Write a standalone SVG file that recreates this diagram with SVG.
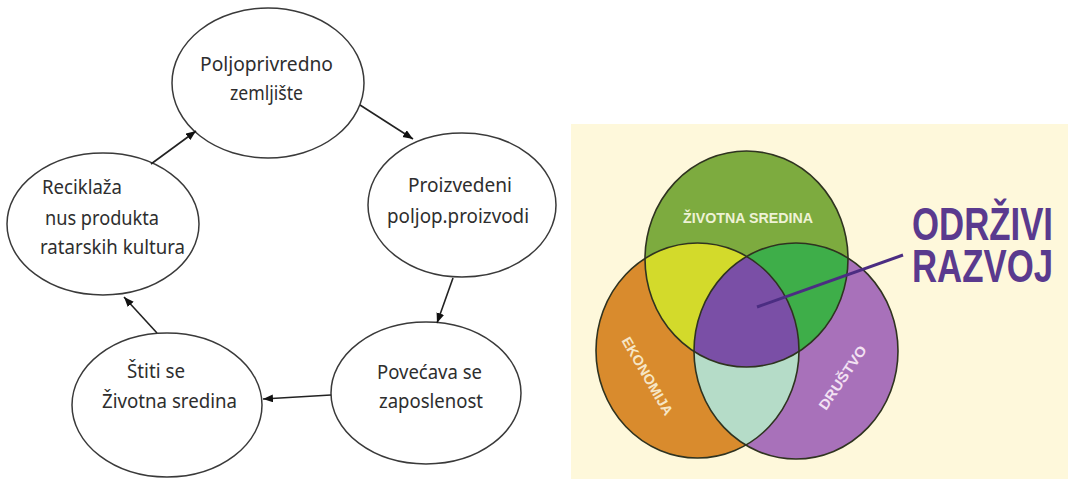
<svg xmlns="http://www.w3.org/2000/svg" width="1068" height="479" viewBox="0 0 1068 479">
<style>
.node ellipse{fill:#fff;stroke:#3a3a3a;stroke-width:1.5}
.lbl{font-family:"Noto Sans","Open Sans",sans-serif;font-size:19px;fill:#2e2e2e}
.conn line{stroke:#222;stroke-width:1.6;marker-end:url(#ah)}
.vout{fill:none;stroke:#2f3320;stroke-width:1.6}
.vl{font-family:"Liberation Sans",Arial,sans-serif;font-weight:bold;font-size:14px}
.big{font-family:"Liberation Sans",Arial,sans-serif;font-weight:bold;font-size:46px;fill:#5a3a8e}
</style>
<defs>
<marker id="ah" markerUnits="userSpaceOnUse" markerWidth="11" markerHeight="9" refX="10" refY="4" orient="auto">
<path d="M0,0 L10,4 L0,8 z" fill="#111"/>
</marker>
<clipPath id="cG"><ellipse cx="746.5" cy="259" rx="101.5" ry="108"/></clipPath>
<clipPath id="cO"><ellipse cx="697.5" cy="350.5" rx="101.5" ry="107.5"/></clipPath>
</defs>
<rect width="1068" height="479" fill="#fff"/>

<g id="n-poljoprivredno" class="node">
<ellipse cx="268" cy="83" rx="96" ry="75"/>
<text class="lbl" x="200" y="71" textLength="133" lengthAdjust="spacingAndGlyphs">Poljoprivredno</text>
<text class="lbl" x="230" y="100" textLength="73" lengthAdjust="spacingAndGlyphs">zemljište</text>
</g>
<g id="n-proizvedeni" class="node">
<ellipse cx="462" cy="205" rx="94" ry="72"/>
<text class="lbl" x="408" y="192" textLength="104" lengthAdjust="spacingAndGlyphs">Proizvedeni</text>
<text class="lbl" x="387" y="223" textLength="142" lengthAdjust="spacingAndGlyphs">poljop.proizvodi</text>
</g>
<g id="n-povecava" class="node">
<ellipse cx="426" cy="393" rx="95" ry="71"/>
<text class="lbl" x="377" y="379" textLength="105" lengthAdjust="spacingAndGlyphs">Povećava se</text>
<text class="lbl" x="379" y="408" textLength="104" lengthAdjust="spacingAndGlyphs">zaposlenost</text>
</g>
<g id="n-stiti" class="node">
<ellipse cx="167" cy="405" rx="95" ry="72"/>
<text class="lbl" x="127" y="378" textLength="58" lengthAdjust="spacingAndGlyphs">Štiti se</text>
<text class="lbl" x="102" y="408" textLength="135" lengthAdjust="spacingAndGlyphs">Životna sredina</text>
</g>
<g id="n-reciklaza" class="node">
<ellipse cx="103" cy="224" rx="96" ry="71"/>
<text class="lbl" x="42" y="194" textLength="80" lengthAdjust="spacingAndGlyphs">Reciklaža</text>
<text class="lbl" x="45" y="225" textLength="114" lengthAdjust="spacingAndGlyphs">nus produkta</text>
<text class="lbl" x="40" y="254" textLength="145" lengthAdjust="spacingAndGlyphs">ratarskih kultura</text>
</g>

<g id="connectors" class="conn">
<line x1="360" y1="105" x2="413" y2="139"/>
<line x1="453" y1="278" x2="437" y2="323"/>
<line x1="331" y1="395" x2="263" y2="399"/>
<line x1="157" y1="333" x2="124" y2="297"/>
<line x1="151" y1="164" x2="196" y2="131"/>
</g>

<g id="venn">
<rect x="571" y="124" width="497" height="355" fill="#fef8db"/>
<ellipse cx="746.5" cy="259" rx="101.5" ry="108" fill="#7dab3f"/>
<ellipse cx="697.5" cy="350.5" rx="101.5" ry="107.5" fill="#d98b2d"/>
<ellipse cx="796" cy="351" rx="102" ry="108" fill="#a871ba"/>
<ellipse cx="697.5" cy="350.5" rx="101.5" ry="107.5" fill="#d3da2b" clip-path="url(#cG)"/>
<ellipse cx="796" cy="351" rx="102" ry="108" fill="#3eae49" clip-path="url(#cG)"/>
<ellipse cx="796" cy="351" rx="102" ry="108" fill="#b5dcc8" clip-path="url(#cO)"/>
<g clip-path="url(#cG)"><ellipse cx="796" cy="351" rx="102" ry="108" fill="#7a4fa6" clip-path="url(#cO)"/></g>
<ellipse class="vout" cx="746.5" cy="259" rx="101.5" ry="108"/>
<ellipse class="vout" cx="697.5" cy="350.5" rx="101.5" ry="107.5"/>
<ellipse class="vout" cx="796" cy="351" rx="102" ry="108"/>
<text class="vl" x="683" y="223" textLength="130" lengthAdjust="spacingAndGlyphs" fill="#eef2d6">ŽIVOTNA SREDINA</text>
<text class="vl" transform="translate(647.5,376) rotate(60)" x="0" y="5" text-anchor="middle" textLength="88" lengthAdjust="spacingAndGlyphs" fill="#f6e6c6">EKONOMIJA</text>
<text class="vl" transform="translate(842.5,377.5) rotate(-56)" x="0" y="5" text-anchor="middle" textLength="74" lengthAdjust="spacingAndGlyphs" fill="#f3e2f3">DRUŠTVO</text>
<line x1="757" y1="307" x2="903" y2="255" stroke="#4b2d82" stroke-width="3"/>
<text class="big" transform="translate(912,240) scale(0.756,1)">ODRŽIVI</text>
<text class="big" transform="translate(912,282) scale(0.756,1)">RAZVOJ</text>
</g>
</svg>
